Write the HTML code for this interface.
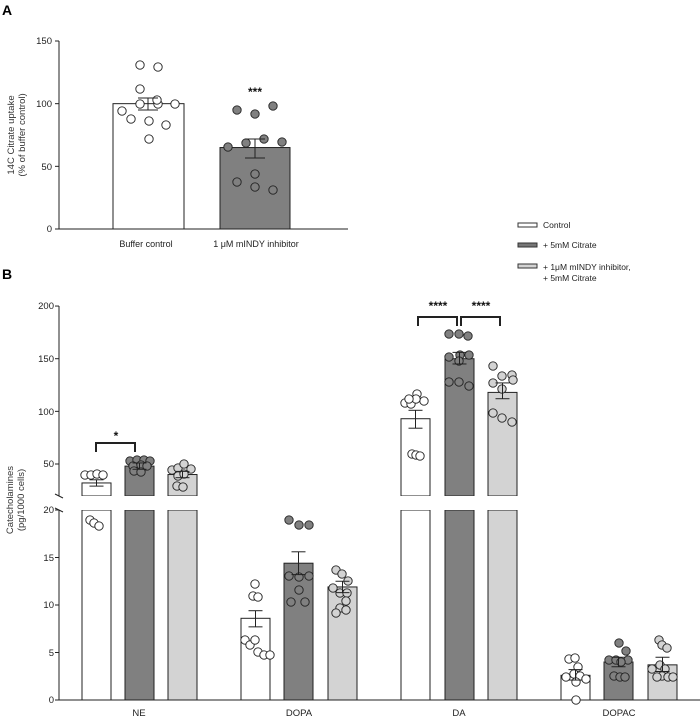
<!DOCTYPE html>
<html><head><meta charset="utf-8"><style>
html,body{margin:0;padding:0;background:#fff}
svg{display:block;font-family:"Liberation Sans",Arial,sans-serif}
</style></head><body>
<svg id="s" width="700" height="717" viewBox="0 0 700 717" xmlns="http://www.w3.org/2000/svg">
<text x="2" y="15" font-size="14" font-weight="bold">A</text>
<text x="2" y="279" font-size="14" font-weight="bold">B</text>
<g font-size="9.5" fill="#222" text-anchor="end">
<text x="52" y="44">150</text><text x="52" y="107">100</text><text x="52" y="170">50</text><text x="52" y="232">0</text>
<text x="54" y="309">200</text><text x="54" y="362">150</text><text x="54" y="415">100</text><text x="54" y="467">50</text>
<text x="54" y="513">20</text><text x="54" y="561">15</text><text x="54" y="608">10</text><text x="54" y="656">5</text><text x="54" y="703">0</text>
</g>
<text transform="translate(14,135) rotate(-90)" font-size="9.5" text-anchor="middle" fill="#333">14C Citrate uptake</text>
<text transform="translate(25,135) rotate(-90)" font-size="9.5" text-anchor="middle" fill="#333">(% of buffer control)</text>
<text transform="translate(13,500) rotate(-90)" font-size="9.5" text-anchor="middle" fill="#333">Catecholamines</text>
<text transform="translate(24,500) rotate(-90)" font-size="9.5" text-anchor="middle" fill="#333">(pg/1000 cells)</text>
<g font-size="9" fill="#222" text-anchor="middle">
<text x="146" y="247">Buffer control</text>
<text x="256" y="247">1 μM mINDY inhibitor</text>
</g>
<g font-size="9.5" fill="#222" text-anchor="middle">
<text x="139" y="716">NE</text><text x="299" y="716">DOPA</text><text x="459" y="716">DA</text><text x="619" y="716">DOPAC</text>
</g>
<g font-size="12" font-weight="bold" text-anchor="middle" fill="#111">
<text x="255" y="96">***</text>
<text x="116" y="440">*</text>
<text x="438" y="310">****</text>
<text x="481" y="310">****</text>
</g>
<g font-size="8.5" fill="#222">
<text x="543" y="228">Control</text>
<text x="543" y="248">+ 5mM Citrate</text>
<text x="543" y="270">+ 1μM mINDY inhibitor,</text>
<text x="543" y="281">+ 5mM Citrate</text>
</g>
<g stroke="#333" stroke-width="1">
<rect x="518" y="223" width="19" height="4" fill="#fff"/>
<rect x="518" y="243" width="19" height="4" fill="#777"/>
<rect x="518" y="264" width="19" height="4" fill="#d3d3d3"/>
</g>
<g id="g"></g>
</svg>
<script>
var g=document.getElementById('g'),NS='http://www.w3.org/2000/svg';
function el(t,a){var e=document.createElementNS(NS,t);for(var k in a)e.setAttribute(k,a[k]);g.appendChild(e);return e;}
function line(x1,y1,x2,y2,w){el('line',{x1:x1,y1:y1,x2:x2,y2:y2,stroke:'#222','stroke-width':w||1});}
function dot(x,y,f){el('circle',{cx:x,cy:y,r:4.2,fill:f,stroke:'#222','stroke-width':0.9});}
var ya=function(v){return 229-v*188/150;};
line(59,41,59,229);line(59,229,348,229);
[0,50,100,150].forEach(function(v){line(55,ya(v),59,ya(v));});
el('rect',{x:113,y:ya(100),width:71,height:229-ya(100),fill:'#fff',stroke:'#222'});
el('rect',{x:220,y:ya(65),width:70,height:229-ya(65),fill:'#808080',stroke:'#222'});
[[140,65],[158,67],[140,89],[122,111],[131,119],[140,104],[158,104],[175,104],[149,121],[166,125],[149,139],[157,100]].forEach(function(p){dot(p[0],p[1],'#fff');});
[[237,110],[255,114],[273,106],[228,147],[246,143],[264,139],[282,142],[255,174],[237,182],[255,187],[273,190]].forEach(function(p){dot(p[0],p[1],'#808080');});
function eb(cx,y1,y2,hw){line(cx,y1,cx,y2);line(cx-hw,y1,cx+hw,y1);line(cx-hw,y2,cx+hw,y2);}
eb(148,98,110,10);eb(255,139,158,10);
function yb(v){return v<=20?700-v*9.5:464-(v-50)*1.053;}
line(59,306,59,496);line(59,510,59,700);line(55,700,700,700);
line(55,494,63,498);line(55,508,63,512);
[0,5,10,15,20].forEach(function(v){line(55,yb(v),59,yb(v));});
[50,100,150,200].forEach(function(v){line(55,yb(v),59,yb(v));});
var cols=['#fff','#808080','#d3d3d3'];
var bars=[[82,32,29,35],[125,48,45,51],[168,40,37,43],[241,8.6,7.7,9.4],[284,14.4,13.2,15.6],[328,11.9,11.3,12.5],
[401,93,84,101],[445,150,145,156],[488,118,112,127],[561,2.6,2.1,3.2],[604,4,3.5,4.5],[648,3.7,3.0,4.5]];
bars.forEach(function(b,i){var c=cols[i%3],w=29,v=b[1];
 if(v<=20){el('rect',{x:b[0],y:yb(v),width:w,height:700-yb(v),fill:c,stroke:'#222'});}
 else{el('rect',{x:b[0],y:510,width:w,height:190,fill:c,stroke:'#222'});
  el('rect',{x:b[0],y:yb(v),width:w,height:496-yb(v),fill:c,stroke:'#222'});
  el('rect',{x:b[0]-2,y:496,width:w+4,height:14,fill:'#fff'});}
});
var dots=[
[0,[[85,475],[91,475],[97,474],[103,475],[90,520],[94,523],[99,526]]],
[1,[[130,461],[137,460],[144,460],[150,461],[133,466],[141,465],[147,466],[134,471],[141,472]]],
[2,[[172,470],[178,468],[184,464],[191,469],[178,476],[184,474],[177,486],[183,487]]],
[0,[[255,584],[253,596],[258,597],[245,640],[250,645],[255,640],[258,652],[264,655],[270,655]]],
[1,[[289,520],[299,525],[309,525],[289,576],[299,577],[309,576],[299,590],[291,602],[305,602]]],
[2,[[336,570],[342,574],[348,581],[333,588],[340,593],[347,593],[346,601],[340,608],[336,613],[346,610]]],
[0,[[405,403],[411,404],[417,394],[424,401],[416,399],[409,399],[412,454],[416,455],[420,456]]],
[1,[[449,334],[459,334],[468,336],[449,357],[460,355],[469,355],[459,361],[449,382],[459,382],[469,386]]],
[2,[[493,366],[502,376],[512,375],[493,383],[502,389],[513,380],[493,413],[502,418],[512,422]]],
[0,[[569,659],[575,658],[578,667],[566,677],[574,674],[580,676],[586,679],[576,682],[576,700]]],
[1,[[619,643],[626,651],[628,660],[609,660],[616,660],[621,662],[614,676],[620,677],[625,677]]],
[2,[[659,640],[662,645],[667,648],[652,669],[660,665],[665,669],[662,676],[668,677],[673,677],[657,677]]]];
dots.forEach(function(d){d[1].forEach(function(p){dot(p[0],p[1],cols[d[0]]);});});
bars.forEach(function(b){eb(b[0]+14.5,yb(b[3]),yb(b[2]),7);});
function br(x1,x2,y){el('polyline',{points:x1+','+(y+9)+' '+x1+','+y+' '+x2+','+y+' '+x2+','+(y+9),fill:'none',stroke:'#222','stroke-width':2});}
br(96,135,443);br(418,457,317);br(461,500,317);
</script>
</body></html>
